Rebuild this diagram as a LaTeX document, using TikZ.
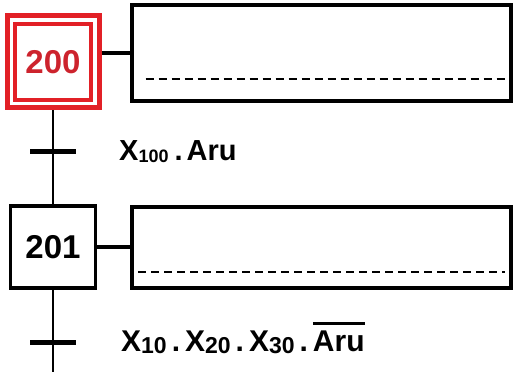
\documentclass[tikz,border=0pt]{standalone}
\usepackage{fontspec}
\setmainfont{Liberation Sans}
\usetikzlibrary{positioning}
\definecolor{stepred}{RGB}{226,32,38}
\definecolor{numred}{RGB}{205,35,45}
\newcommand{\low}[2][19]{\raisebox{-2pt}{\fontsize{#1}{#1}\selectfont #2}}
\newcommand{\negated}[1]{\vbox{\hrule height 3pt\kern 6pt\hbox{#1}}}
\newcommand{\andop}{\kern5pt.\kern5pt}

\begin{document}
\begin{tikzpicture}[x=1pt,y=1pt,
  stepbox/.style={draw,line width=3.5pt,inner sep=0pt,font=\fontsize{33}{33}\selectfont\bfseries},
  action/.style={draw,line width=4pt,minimum width=379pt,inner sep=0pt},
  trans/.style={fill,minimum width=46pt,minimum height=5pt,inner sep=0pt,outer sep=0pt},
  cond/.style={font=\fontsize{29}{29}\selectfont\bfseries,inner sep=0pt,text height=21pt,text depth=3pt},
  dashline/.style={line width=2.2pt,dash pattern=on 8pt off 5pt}]

\useasboundingbox (0,0) rectangle (515,385);

% vertical links
\coordinate (end) at (53,13);

% initial step 200
\node[stepbox,draw=stepred,text=numred,line width=3.5pt,minimum size=76pt] (s200) at (53,323) {200};
\node[draw=stepred,line width=5pt,minimum size=92pt,inner sep=0pt] (s200o) at (s200) {};
\node[action,minimum height=96pt] (a200) at (321,332) {};
\draw[line width=4pt] (s200o.east |- a200.west) -- (a200.west);
\draw[dashline] ([xshift=16pt,yshift=24pt]a200.south west) -- ([xshift=-6pt,yshift=24pt]a200.south east);

% step 201
\node[stepbox,minimum width=85pt,minimum height=82pt] (s201) at (53,138) {201};
\node[action,minimum height=81pt] (a201) at (321.5,137.5) {};
\draw[line width=4pt] (s201.east |- a201.west) -- (a201.west);
\draw[dashline] ([xshift=8pt,yshift=18pt]a201.south west) -- ([xshift=-8pt,yshift=18pt]a201.south east);

\draw[line width=2pt] (s200o.south) -- (s201.north);
\draw[line width=2pt] (s201.south) -- (end);

% transitions
\node[trans] (t1) at (53,233) {};
\node[cond,right=43pt of t1] (c1) {X\low[18]{100}\kern6pt.\kern4pt Aru};
\node[trans] (t2) at (53,42) {};
\node[cond,font=\fontsize{30}{30}\selectfont\bfseries,right=45pt of t2] (c2) {X\low[23]{10}\andop X\low[23]{20}\andop X\low[23]{30}\andop\negated{Aru}};

\end{tikzpicture}
\end{document}
